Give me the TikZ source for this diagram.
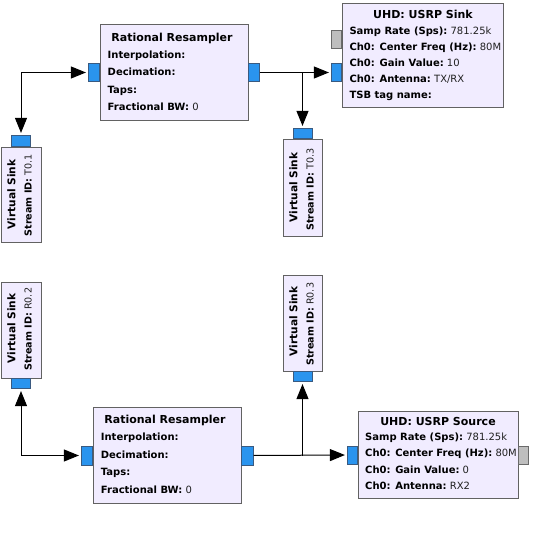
\documentclass[tikz,border=0pt]{standalone}
\usepackage{fontspec}
\setmainfont{DejaVu Sans}
\usetikzlibrary{arrows.meta}
\definecolor{blockfill}{HTML}{F1ECFF}
\definecolor{blockline}{HTML}{626262}
\definecolor{portblue}{HTML}{2A94EE}
\definecolor{portblueline}{HTML}{3A5A80}
\definecolor{portgray}{HTML}{BEBEBE}
\definecolor{portgrayline}{HTML}{6A6A6A}
\definecolor{valtext}{HTML}{202020}
\newcommand{\pkv}[2]{\textbf{#1}\ \textcolor{valtext}{#2}}
\newcommand{\pk}[1]{\textbf{#1}}
\tikzset{
  blk/.style={draw=blockline, fill=blockfill, line width=1.2pt, inner sep=0pt},
  bport/.style={draw=portblueline, fill=portblue, line width=0.6pt, inner sep=0pt},
  gport/.style={draw=portgrayline, fill=portgray, line width=0.6pt, inner sep=0pt},
  ttl/.style={inner sep=0pt, font=\fontsize{11}{13}\selectfont\bfseries},
  prm/.style={inner sep=0pt, anchor=base west, font=\fontsize{10}{12}\selectfont},
  vttl/.style={inner sep=0pt, rotate=90, anchor=base, font=\fontsize{10.6}{13}\selectfont\bfseries},
  vprm/.style={inner sep=0pt, rotate=90, anchor=base west, font=\fontsize{9.6}{12}\selectfont},
  wire/.style={line width=1pt, draw=black},
  tip/.tip={Triangle[length=15pt,width=12pt]},
  endgap/.style={shorten >=2.5pt},
  startgap/.style={shorten <=2.5pt}
}
\begin{document}
\begin{tikzpicture}[x=1pt,y=-1pt]
\useasboundingbox (0,0) rectangle (557,534);

% ---------- top Rational Resampler ----------
\node[blk, minimum width=148pt, minimum height=96pt, anchor=north west] (rr1) at (100,24) {};
\node[bport, minimum width=11pt, minimum height=18pt, anchor=east] (rr1in) at (100,72.5) {};
\node[bport, minimum width=11pt, minimum height=18pt, anchor=west] (rr1out) at (248,72.5) {};
\node[ttl, anchor=base] (rr1t) at (172,41.5) {Rational Resampler};
\node[prm] (rr1a) at (107.5,58.5) {\pk{Interpolation:}};
\node[prm] (rr1b) at (107.5,75.8) {\pk{Decimation:}};
\node[prm] (rr1c) at (107.5,93.3) {\pk{Taps:}};
\node[prm] (rr1d) at (107.5,110.7) {\pkv{Fractional BW:}{0}};

% ---------- UHD: USRP Sink ----------
\node[blk, minimum width=161pt, minimum height=104pt, anchor=north west] (usink) at (342,3) {};
\node[gport, minimum width=10pt, minimum height=18pt, anchor=east] (usmsg) at (342,39) {};
\node[bport, minimum width=10pt, minimum height=18pt, anchor=east] (usin) at (342,72.5) {};
\node[ttl, anchor=base] (ust) at (423,18.5) {UHD: USRP Sink};
\node[prm] (usa) at (349.3,34.7) {\pkv{Samp Rate (Sps):}{781.25k}};
\node[prm] (usb) at (349.3,50.3) {\pkv{Ch0: Center Freq (Hz):}{80M}};
\node[prm] (usc) at (349.3,66.3) {\pkv{Ch0: Gain Value:}{10}};
\node[prm] (usd) at (349.3,82.3) {\pkv{Ch0: Antenna:}{TX/RX}};
\node[prm] (use) at (349.3,98.3) {\pk{TSB tag name:}};

% ---------- Virtual Sink T0.1 ----------
\node[blk, minimum width=40pt, minimum height=95pt, anchor=north west] (t01) at (1,147) {};
\node[bport, minimum width=19pt, minimum height=11pt, anchor=south] (t01in) at (21,147) {};
\node[vttl] (t01t) at (15.3,194.5) {Virtual Sink};
\node[vprm] (t01s) at (31.7,236.5) {\pkv{Stream ID:}{T0.1}};

% ---------- Virtual Sink T0.3 ----------
\node[blk, minimum width=39pt, minimum height=97pt, anchor=north west] (t03) at (283,139) {};
\node[bport, minimum width=19pt, minimum height=10pt, anchor=south] (t03in) at (302.5,139) {};
\node[vttl] (t03t) at (297.3,187.5) {Virtual Sink};
\node[vprm] (t03s) at (313.7,231) {\pkv{Stream ID:}{T0.3}};

% ---------- Virtual Sink R0.2 ----------
\node[blk, minimum width=40pt, minimum height=96pt, anchor=north west] (r02) at (1,282) {};
\node[bport, minimum width=19pt, minimum height=10pt, anchor=north] (r02in) at (21,378) {};
\node[vttl] (r02t) at (15.3,328.5) {Virtual Sink};
\node[vprm] (r02s) at (31.7,371) {\pkv{Stream ID:}{R0.2}};

% ---------- Virtual Sink R0.3 ----------
\node[blk, minimum width=39pt, minimum height=96pt, anchor=north west] (r03) at (283,275) {};
\node[bport, minimum width=19pt, minimum height=10pt, anchor=north] (r03in) at (302.5,371) {};
\node[vttl] (r03t) at (297.3,321.5) {Virtual Sink};
\node[vprm] (r03s) at (313.7,366) {\pkv{Stream ID:}{R0.3}};

% ---------- bottom Rational Resampler ----------
\node[blk, minimum width=148pt, minimum height=96pt, anchor=north west] (rr2) at (93,407) {};
\node[bport, minimum width=11pt, minimum height=19pt, anchor=east] (rr2in) at (93,455.5) {};
\node[bport, minimum width=12pt, minimum height=19pt, anchor=west] (rr2out) at (241,455.5) {};
\node[ttl, anchor=base] (rr2t) at (165,423.5) {Rational Resampler};
\node[prm] (rr2a) at (100.7,440.7) {\pk{Interpolation:}};
\node[prm] (rr2b) at (100.7,458) {\pk{Decimation:}};
\node[prm] (rr2c) at (100.7,475.7) {\pk{Taps:}};
\node[prm] (rr2d) at (100.7,493) {\pkv{Fractional BW:}{0}};

% ---------- UHD: USRP Source ----------
\node[blk, minimum width=160pt, minimum height=87pt, anchor=north west] (usrc) at (358,411) {};
\node[bport, minimum width=10pt, minimum height=18pt, anchor=east] (usrcin) at (358,455) {};
\node[gport, minimum width=10pt, minimum height=18pt, anchor=west] (usrcout) at (518,455) {};
\node[ttl, anchor=base] (usrct) at (438,425) {UHD: USRP Source};
\node[prm] (usrca) at (365,441) {\pkv{Samp Rate (Sps):}{781.25k}};
\node[prm] (usrcb) at (365,456.7) {\pkv{Ch0: Center Freq (Hz):}{80M}};
\node[prm] (usrcc) at (365,473.3) {\pkv{Ch0: Gain Value:}{0}};
\node[prm] (usrcd) at (365,489.3) {\pkv{Ch0: Antenna:}{RX2}};

% ---------- connectors ----------
\draw[wire, tip-tip, startgap, endgap] (t01in.north) |- (rr1in.west);
\coordinate (j1) at (t03in.north |- rr1out.east);
\draw[wire, -tip, endgap] (rr1out.east) -- (usin.west);
\draw[wire, -tip, endgap] (j1) -- (t03in.north);

\draw[wire, tip-tip, startgap, endgap] (r02in.south) |- (rr2in.west);
\coordinate (j2) at (r03in.south |- rr2out.east);
\draw[wire, -tip, endgap] (rr2out.east) -- (usrcin.west);
\draw[wire, -tip, endgap] (j2) -- (r03in.south);
\end{tikzpicture}
\end{document}
